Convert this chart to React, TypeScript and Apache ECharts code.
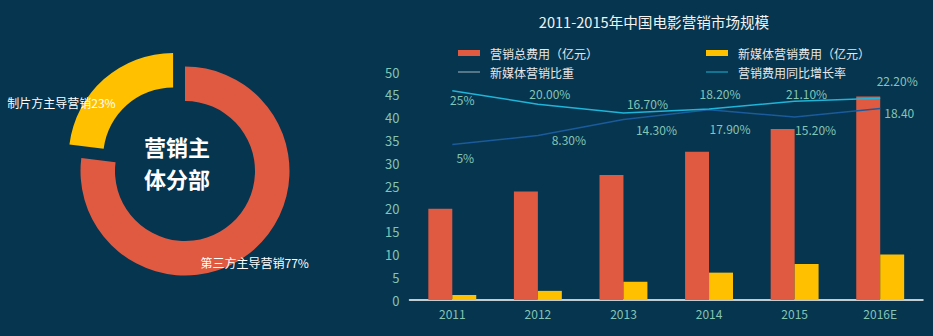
import React, { useEffect, useRef } from 'react';
import * as echarts from 'echarts';

// ---- data ----
const years = ['2011', '2012', '2013', '2014', '2015', '2016E'];
const totalCost = [20, 23.8, 27.4, 32.5, 37.5, 44.6];
const newMediaCost = [1.1, 2.0, 4.0, 6.0, 7.9, 10.0];
const newMediaShare = [5, 8.3, 14.3, 17.9, 15.2, 18.4];
const newMediaShareLabels = ['5%', '8.30%', '14.30%', '17.90%', '15.20%', '18.40'];
const growthRate = [25, 20, 16.7, 18.2, 21.1, 22.2];
const growthRateLabels = ['25%', '20.00%', '16.70%', '18.20%', '21.10%', '22.20%'];
const subjectNames = ['第三方主导营销', '制片方主导营销'];
const subjectShares = [77, 23];
const centerTitleLines = ['营销主', '体分部'];
const yTicks = { min: 0, max: 50, interval: 5 };

// ---- styles ----
const BG = '#05354f';
const RED = '#e05a42';
const YELLOW = '#ffc000';
const CYAN = '#1fb5d8';
const DARKBLUE = '#1b5a9b';
const TEAL = '#86c4b4';
const shareLabelOffsets = [[13, 13], [31, 4], [33, 10], [21, 19], [21, 12], [19, 4]];
const growthLabelOffsets = [[10, 9], [12, -11], [24, -10], [11, -16], [12, -8], [17, -18]];
const pieLabelOffsets = [[10, 24], [-52, 13]];
const LINE_ICON = 'path://M0,0H22V1H0Z';

export default function App() {
  const ref = useRef<HTMLDivElement>(null);
  useEffect(() => {
    if (!ref.current) return;
    const chart = echarts.init(ref.current, null, { renderer: 'svg' });
    const labelFont = { fontSize: 12, color: TEAL, fontFamily: 'Noto Sans CJK SC' };
    chart.setOption({
      animation: false,
      backgroundColor: BG,
      textStyle: { fontFamily: 'Noto Sans CJK SC' },
      graphic: [
        {
          type: 'text', x: 654, y: 21,
          style: { text: '2011-2015年中国电影营销市场规模', align: 'center', verticalAlign: 'middle', fill: '#f2f2f2', font: '14.6px "Noto Sans CJK SC"' },
        },
        ...centerTitleLines.map((t, i) => ({
          type: 'text', x: 177, y: 146 + i * 32,
          style: { text: t, align: 'center', verticalAlign: 'middle', fill: '#ffffff', font: 'bold 22px "Noto Sans CJK SC"' },
        })),
      ],
      legend: [
        {
          left: 458, top: 46, orient: 'vertical', padding: 0, itemWidth: 22, itemHeight: 6, itemGap: 5,
          textStyle: { color: '#e8e8e8', fontSize: 12, lineHeight: 14, padding: [0, 0, 0, 5] },
          data: [
            { name: '营销总费用（亿元）', icon: 'rect' },
            { name: '新媒体营销比重', icon: LINE_ICON, itemStyle: { color: '#a9b8c2', borderWidth: 0 } },
          ],
        },
        {
          left: 706, top: 46, orient: 'vertical', padding: 0, itemWidth: 22, itemHeight: 6, itemGap: 5,
          textStyle: { color: '#e8e8e8', fontSize: 12, lineHeight: 14, padding: [0, 0, 0, 5] },
          data: [
            { name: '新媒体营销费用（亿元）', icon: 'rect' },
            { name: '营销费用同比增长率', icon: LINE_ICON, itemStyle: { color: CYAN, borderWidth: 0 } },
          ],
        },
      ],
      grid: { left: 409.5, right: 10, top: 72, bottom: 36 },
      xAxis: {
        type: 'category', data: years,
        axisLine: { lineStyle: { color: '#ffffff', width: 1.5 } },
        axisTick: { show: false },
        axisLabel: { ...labelFont, margin: 7 },
      },
      yAxis: [
        {
          type: 'value', min: yTicks.min, max: yTicks.max, interval: yTicks.interval,
          axisLine: { show: false }, axisTick: { show: false }, splitLine: { show: false },
          axisLabel: { ...labelFont, fontSize: 13, margin: 10 },
        },
        { type: 'value', min: -53, max: 32, show: false, splitLine: { show: false } },
      ],
      series: [
        {
          type: 'pie', center: [185, 171], radius: [70, 104.5], startAngle: 90, clockwise: true,
          selectedMode: 'single', selectedOffset: 18, silent: true,
          emphasis: { disabled: true },
          label: { position: 'inside', color: '#ffffff', fontSize: 12, formatter: '{b}{c}%' },
          labelLine: { show: false },
          data: subjectNames.map((n, i) => ({
            name: n, value: subjectShares[i], selected: i === 1,
            itemStyle: { color: i === 0 ? RED : YELLOW },
            label: { offset: pieLabelOffsets[i] },
            select: { label: { offset: pieLabelOffsets[i], color: '#ffffff' }, itemStyle: { color: i === 0 ? RED : YELLOW } },
          })),
        },
        {
          name: '营销总费用（亿元）', type: 'bar', data: totalCost, barWidth: '28%', barGap: '0%',
          itemStyle: { color: RED }, silent: true,
        },
        {
          name: '新媒体营销费用（亿元）', type: 'bar', data: newMediaCost, barWidth: '28%', barGap: '0%',
          itemStyle: { color: YELLOW }, silent: true,
        },
        {
          name: '新媒体营销比重', type: 'line', yAxisIndex: 1, silent: true,
          symbol: 'circle', symbolSize: 0.1, showSymbol: true,
          lineStyle: { color: DARKBLUE, width: 1.5 }, itemStyle: { color: DARKBLUE },
          data: newMediaShare.map((v, i) => ({
            value: v,
            label: { show: true, position: 'inside', offset: shareLabelOffsets[i], formatter: () => newMediaShareLabels[i], ...labelFont },
          })),
        },
        {
          name: '营销费用同比增长率', type: 'line', yAxisIndex: 1, silent: true,
          symbol: 'circle', symbolSize: 0.1, showSymbol: true,
          lineStyle: { color: CYAN, width: 1.5 }, itemStyle: { color: CYAN },
          data: growthRate.map((v, i) => ({
            value: v,
            label: { show: true, position: 'inside', offset: growthLabelOffsets[i], formatter: () => growthRateLabels[i], ...labelFont },
          })),
        },
      ],
    });
    return () => chart.dispose();
  }, []);
  return <div ref={ref} style={{ width: 933, height: 336, position: 'absolute', left: 0, top: 0 }} />;
}
